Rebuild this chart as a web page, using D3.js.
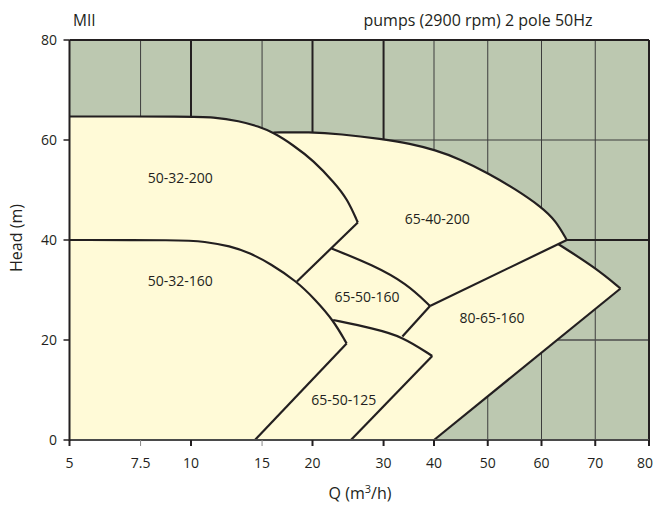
<!DOCTYPE html>
<html><head><meta charset="utf-8">
<script src="https://cdn.jsdelivr.net/npm/d3@7"></script>
<style>
body{margin:0;background:#fff}
svg text{font-family:"Open Sans",sans-serif;fill:#231f20}
</style>
</head><body>
<svg id="chart" width="654" height="506"></svg>
<script>
// ---- data (Q in m3/h, H in m) ----
const xTicks = [5, 7.5, 10, 15, 20, 30, 40, 50, 60, 70, 80];
const xTickLabels = ["5", "7.5", "10", "15", "20", "30", "40", "50", "60", "70", "80"];
const yTicks = [0, 20, 40, 60, 80];
const heavyGridQ = [10, 20, 30];
const gridH = [20, 40, 60];

const curve50_32_200 = [[5,64.7],[10,64.7],[11.3,64.6],[13.2,63.8],[14.7,62.7],[16,61.5],[17.9,59],[20.1,55.9],[22.7,51.4],[24.4,48.2],[25.9,43.5]];
const curve50_32_160 = [[5,40],[9.4,40],[10.8,39.7],[12.5,38.8],[14,37.4],[15.7,35.3],[18.3,31.7],[20.3,28.1],[22.5,24],[24.3,19.3]];
const curve65_40_200 = [[16,61.5],[19.7,61.6],[23.4,61.2],[29.7,60.2],[34.9,59.3],[40.2,58],[44.8,56.2],[50.2,53.3],[55.1,50.2],[60,46.6],[62.7,43.8],[64.7,40]];
const curve65_50_160 = [[22.3,38.3],[28.2,35],[34.2,31.3],[39.1,26.8]];
const curve65_50_125 = [[22.5,24],[28.3,22.3],[33.4,20.7],[39.6,16.8]];
const curve80_65_160 = [[63.1,39.2],[70.1,34.4],[74.7,30.3]];
const straightEdges = [
  [[18.3,31.7],[25.9,43.5]],
  [[39.1,26.8],[64.7,40]],
  [[39.1,26.8],[33.4,20.7]],
  [[14.4,0],[24.3,19.3]],
  [[24.9,0],[39.6,16.8]],
  [[40,0],[74.7,30.3]]
];
const models = ["50-32-200", "50-32-160", "65-40-200", "65-50-160", "65-50-125", "80-65-160"];
const modelLabelAt = [[9.4,52.3],[9.4,31.8],[40.6,44.2],[27.3,28.6],[23.9,8],[50.8,24.3]];

// ---- scales ----
const L = 69.5, R = 649, T = 40, B = 440;
const xLog = d3.scaleLog().domain([5, 40]).range([L, 434]);
const xLin = d3.scaleLinear().domain([40, 80]).range([434, R]);
const x = v => v <= 40 ? xLog(v) : xLin(v);
const y = d3.scaleLinear().domain([0, 80]).range([B, T]);

const svg = d3.select("#chart");
const ink = "#231f20";

// background
svg.append("rect").attr("x", L).attr("y", T).attr("width", R - L).attr("height", B - T).attr("fill", "#bcc8b0");

// grid
const g = svg.append("g");
g.selectAll("line.v").data(xTicks.filter(d => d > 5 && d < 80)).join("line")
  .attr("x1", d => x(d)).attr("x2", d => x(d)).attr("y1", T).attr("y2", B)
  .attr("stroke", d => heavyGridQ.includes(d) ? ink : "#3d3d3d")
  .attr("stroke-width", d => heavyGridQ.includes(d) ? 2 : 1);
g.selectAll("line.h").data(gridH).join("line")
  .attr("x1", L).attr("x2", R).attr("y1", d => y(d)).attr("y2", d => y(d))
  .attr("stroke", d => d === 40 ? ink : (d === 20 ? "#4d4d4d" : "#3d3d3d"))
  .attr("stroke-width", d => d === 40 ? 2.2 : (d === 20 ? 1.6 : 1));

// yellow area
const lin = d3.line().x(d => x(d[0])).y(d => y(d[1]));
const smooth = d3.line().x(d => x(d[0])).y(d => y(d[1])).curve(d3.curveBasis);
const cut = curve50_32_200.findIndex(p => p[0] === curve65_40_200[0][0]);
const areaPath = lin([[5,0],[5,curve50_32_200[0][1]]])
  + smooth(curve50_32_200.slice(0, cut + 2)).replace(/^M/, "L")
  + lin([curve50_32_200[cut + 1], curve65_40_200[0]]).replace(/^M/, "L")
  + smooth(curve65_40_200).replace(/^M/, "L")
  + smooth(curve80_65_160).replace(/^M/, "L")
  + lin([curve80_65_160[curve80_65_160.length - 1], [40, 0]]).replace(/^M/, "L") + "Z";
svg.append("path").attr("d", areaPath).attr("fill", "#fffad7");

// boundaries
const bl = svg.append("g").attr("fill", "none").attr("stroke", ink).attr("stroke-width", 2.2).attr("stroke-linejoin", "miter");
[curve50_32_200, curve50_32_160, curve65_40_200, curve65_50_160, curve65_50_125, curve80_65_160]
  .forEach(c => bl.append("path").attr("d", smooth(c)));
straightEdges.forEach(e => bl.append("path").attr("d", lin(e)));

// frame
svg.append("line").attr("x1", L).attr("x2", R).attr("y1", T).attr("y2", T).attr("stroke", ink).attr("stroke-width", 2);
svg.append("line").attr("x1", R).attr("x2", R).attr("y1", T).attr("y2", B).attr("stroke", ink).attr("stroke-width", 2);
svg.append("line").attr("x1", L).attr("x2", R).attr("y1", B).attr("y2", B).attr("stroke", "#4a4a4a").attr("stroke-width", 2);
svg.append("line").attr("x1", L).attr("x2", L).attr("y1", T).attr("y2", B + 1).attr("stroke", ink).attr("stroke-width", 2);

// y axis
const ya = svg.append("g");
ya.selectAll("line").data(yTicks).join("line")
  .attr("x1", L - 6).attr("x2", L).attr("y1", d => y(d)).attr("y2", d => y(d))
  .attr("stroke", ink).attr("stroke-width", 1.5);
ya.selectAll("text").data(yTicks).join("text")
  .attr("x", 57).attr("y", d => y(d)).attr("dy", "0.35em").attr("text-anchor", "end")
  .attr("font-size", 14).text(d => d);

// x axis
const xa = svg.append("g");
xa.selectAll("line").data(xTicks).join("line")
  .attr("x1", d => x(d)).attr("x2", d => x(d)).attr("y1", B).attr("y2", B + 6)
  .attr("stroke", d => (d === 7.5 || d === 15) ? "#888" : ink)
  .attr("stroke-width", d => (d === 7.5 || d === 15) ? 1 : 2);
xa.selectAll("text").data(xTicks).join("text")
  .attr("x", d => d === 80 ? 653 : x(d)).attr("y", 468)
  .attr("text-anchor", d => d === 80 ? "end" : "middle")
  .attr("font-size", 14).text((d, i) => xTickLabels[i]);

// model labels
svg.append("g").selectAll("text").data(models).join("text")
  .attr("x", (d, i) => x(modelLabelAt[i][0])).attr("y", (d, i) => y(modelLabelAt[i][1]))
  .attr("dy", "0.35em").attr("text-anchor", "middle").attr("font-size", 14).text(d => d);

// titles
svg.append("text").attr("x", 73).attr("y", 26).attr("font-size", 15.5).text("MII");
svg.append("text").attr("x", 478).attr("y", 26).attr("text-anchor", "middle").attr("font-size", 16).text("pumps (2900 rpm) 2 pole 50Hz");
svg.append("text").attr("transform", "translate(22,238) rotate(-90)").attr("text-anchor", "middle").attr("font-size", 16).text("Head (m)");
const qt = svg.append("text").attr("x", 360).attr("y", 499).attr("text-anchor", "middle").attr("font-size", 16);
qt.append("tspan").text("Q (m");
qt.append("tspan").attr("dy", -6).attr("font-size", 11).text("3");
qt.append("tspan").attr("dy", 6).text("/h)");
</script>
</body></html>
